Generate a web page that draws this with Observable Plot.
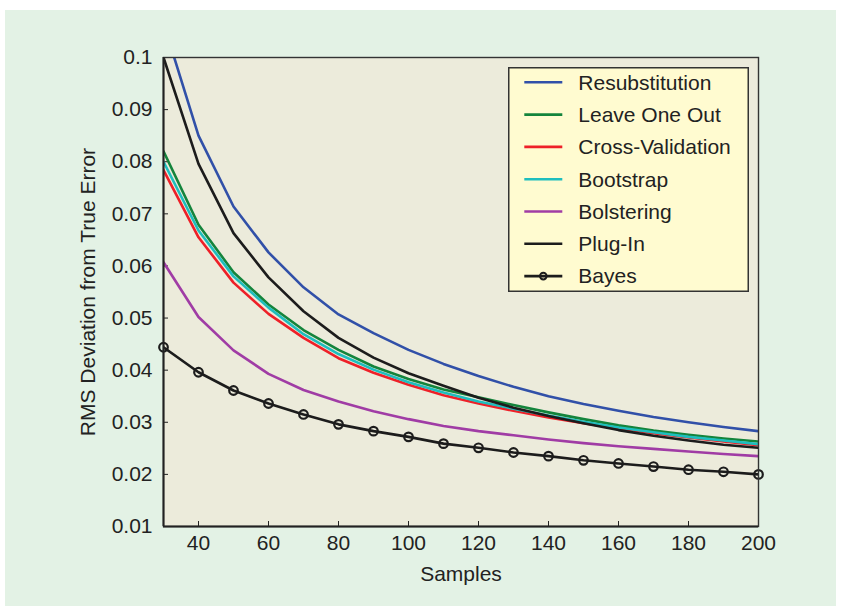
<!DOCTYPE html>
<html>
<head>
<meta charset="utf-8">
<script src="https://cdn.jsdelivr.net/npm/d3@7"></script>
<script src="https://cdn.jsdelivr.net/npm/@observablehq/plot@0.6"></script>
<style>
  html, body { margin: 0; padding: 0; background: #ffffff; width: 841px; height: 611px; overflow: hidden; }
  #panel { position: absolute; left: 5px; top: 10px; width: 831px; height: 596px; background: #e3f2e5; }
  #chart { position: absolute; left: 0; top: 0; }
  #legend { position: absolute; left: 508px; top: 67px; }
  text { font-family: "Liberation Sans", Arial, Helvetica, sans-serif; }
</style>
</head>
<body>
<div id="panel"></div>
<div id="chart"></div>
<div id="legend"></div>
<script>
const samples = [30, 40, 50, 60, 70, 80, 90, 100, 110, 120, 130, 140, 150, 160, 170, 180, 190, 200];

const resubstitution = [0.1066, 0.0850, 0.0714, 0.0626, 0.0559, 0.0507, 0.0471, 0.0439, 0.0412, 0.0389, 0.0368, 0.0350, 0.0335, 0.0322, 0.0310, 0.0300, 0.0291, 0.0283];
const leaveOneOut    = [0.0820, 0.0679, 0.0588, 0.0526, 0.0477, 0.0439, 0.0407, 0.0383, 0.0363, 0.0348, 0.0333, 0.0319, 0.0306, 0.0294, 0.0284, 0.0276, 0.0269, 0.0263];
const crossValidation = [0.0784, 0.0655, 0.0568, 0.0508, 0.0462, 0.0423, 0.0395, 0.0372, 0.0352, 0.0336, 0.0322, 0.0309, 0.0298, 0.0288, 0.0279, 0.0271, 0.0263, 0.0256];
const bootstrap      = [0.0800, 0.0668, 0.0580, 0.0520, 0.0469, 0.0431, 0.0401, 0.0377, 0.0357, 0.0340, 0.0326, 0.0313, 0.0301, 0.0290, 0.0281, 0.0272, 0.0265, 0.0258];
const bolstering     = [0.0607, 0.0502, 0.0438, 0.0393, 0.0362, 0.0340, 0.0321, 0.0306, 0.0293, 0.0283, 0.0275, 0.0267, 0.0260, 0.0254, 0.0249, 0.0244, 0.0239, 0.0235];
const plugIn         = [0.1000, 0.0796, 0.0663, 0.0578, 0.0513, 0.0462, 0.0424, 0.0394, 0.0370, 0.0347, 0.0328, 0.0312, 0.0298, 0.0285, 0.0274, 0.0265, 0.0257, 0.0251];
const bayes          = [0.0444, 0.0396, 0.0361, 0.0336, 0.0315, 0.0296, 0.0283, 0.0272, 0.0259, 0.0251, 0.0242, 0.0235, 0.0227, 0.0221, 0.0215, 0.0209, 0.0205, 0.0200];

const seriesNames  = ["Resubstitution", "Leave One Out", "Cross-Validation", "Bootstrap", "Bolstering", "Plug-In", "Bayes"];
const seriesValues = [resubstitution, leaveOneOut, crossValidation, bootstrap, bolstering, plugIn, bayes];
const seriesColors = ["#3150a8", "#14843c", "#ee2028", "#1ebebe", "#a03ca5", "#1c1c1c", "#1c1c1c"];

const xTicks = [40, 60, 80, 100, 120, 140, 160, 180, 200];
const yTicks = [0.01, 0.02, 0.03, 0.04, 0.05, 0.06, 0.07, 0.08, 0.09, 0.1];
const xDomain = [30, 200];
const yDomain = [0.01, 0.1];

const rows = seriesNames.flatMap((name, i) =>
  samples.map((n, j) => ({series: name, samples: n, value: seriesValues[i][j]}))
);
const bayesRows = rows.filter(d => d.series === "Bayes");

const fontFamily = '"Liberation Sans", Arial, Helvetica, sans-serif';
const fs = 21;

const chart = Plot.plot({
  width: 841,
  height: 611,
  marginLeft: 163,
  marginRight: 83,
  marginTop: 57,
  marginBottom: 85,
  style: {background: "transparent", fontFamily, fontSize: fs + "px", color: "#222"},
  x: {domain: xDomain},
  y: {domain: yDomain},
  color: {domain: seriesNames, range: seriesColors},
  marks: [
    Plot.frame({fill: "#ecebdb", stroke: null}),
    Plot.axisY({
      ticks: yTicks,
      tickSize: -5,
      tickPadding: 16,
      tickFormat: d => d.toFixed(2).replace(/0$/, ""),
      label: "RMS Deviation from True Error",
      labelAnchor: "center",
      labelArrow: "none",
      labelOffset: 83,
      fontSize: fs
    }),
    Plot.axisX({
      ticks: xTicks,
      tickSize: -5,
      tickPadding: 14,
      tickFormat: d => String(d),
      label: "Samples",
      labelAnchor: "center",
      labelArrow: "none",
      labelOffset: 54,
      fontSize: fs
    }),
    Plot.line(rows, {x: "samples", y: "value", z: "series", stroke: "series", strokeWidth: 2.6, clip: true}),
    Plot.dot(bayesRows, {x: "samples", y: "value", r: 4.3, stroke: "series", strokeWidth: 2.2, fill: "none", clip: false}),
    Plot.frame({stroke: "#333", strokeWidth: 1.4}),
    Plot.ruleX([xDomain[0]], {stroke: "#222", strokeWidth: 2}),
    Plot.ruleY([yDomain[0]], {stroke: "#222", strokeWidth: 2})
  ]
});
document.getElementById("chart").appendChild(chart);

// Legend (built from series names and colours)
const lw = 241, lh = 225, rowH = 32.3, first = 15.3;
const lsvg = d3.select("#legend").append("svg")
  .attr("width", lw).attr("height", lh)
  .style("display", "block");
lsvg.append("rect")
  .attr("x", 0.75).attr("y", 0.75).attr("width", lw - 1.5).attr("height", lh - 1.5)
  .attr("fill", "#fffbd0").attr("stroke", "#333").attr("stroke-width", 1.5);
const item = lsvg.selectAll("g.item").data(seriesNames).join("g")
  .attr("class", "item")
  .attr("transform", (d, i) => `translate(0,${first + i * rowH})`);
item.append("line")
  .attr("x1", 16.3).attr("x2", 54.3).attr("y1", 0).attr("y2", 0)
  .attr("stroke", (d, i) => seriesColors[i]).attr("stroke-width", 2.6);
item.filter(d => d === "Bayes").append("circle")
  .attr("cx", 35.3).attr("cy", 0).attr("r", 3.3)
  .attr("fill", "none").attr("stroke", "#1c1c1c").attr("stroke-width", 2);
item.append("text")
  .attr("x", 70.3).attr("y", 0).attr("dy", "0.35em")
  .attr("font-family", fontFamily).attr("font-size", fs).attr("fill", "#222")
  .text(d => d);
</script>
</body>
</html>
